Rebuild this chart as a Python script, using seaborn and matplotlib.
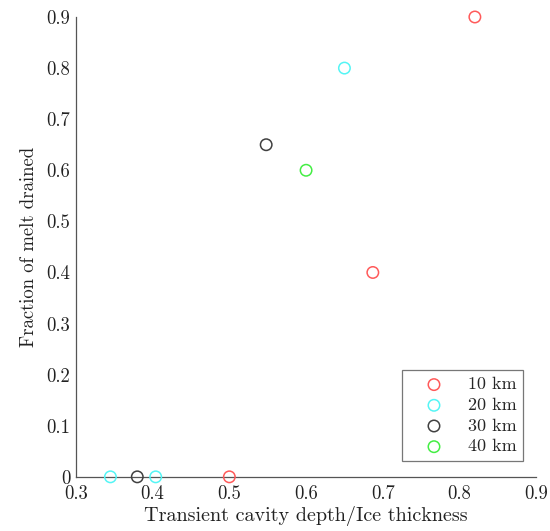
import pandas as pd
import numpy as np
import matplotlib
matplotlib.use("Agg")
import matplotlib.pyplot as plt
import seaborn as sns

# values
groups = ["10 km", "10 km", "10 km", "20 km", "20 km", "20 km", "30 km", "30 km", "40 km"]
depth_ratio = [0.82, 0.687, 0.5, 0.65, 0.345, 0.404, 0.548, 0.38, 0.6]
melt_drained = [0.9, 0.4, 0.0, 0.8, 0.0, 0.0, 0.65, 0.0, 0.6]

labels = ["10 km", "20 km", "30 km", "40 km"]
colors = ["#ff5a5a", "#55f5f5", "#404040", "#44ee44"]

x_ticks = [0.3, 0.4, 0.5, 0.6, 0.7, 0.8, 0.9]
y_ticks = [0, 0.1, 0.2, 0.3, 0.4, 0.5, 0.6, 0.7, 0.8, 0.9]

df = pd.DataFrame({"ratio": depth_ratio, "drained": melt_drained, "run": groups})

sns.set_style("white")
plt.rcParams["font.family"] = ["cmr10", "DejaVu Serif"]
plt.rcParams["mathtext.fontset"] = "cm"
plt.rcParams["axes.formatter.use_mathtext"] = True

fig = plt.figure(figsize=(5.5, 5.31), dpi=100)
ax = fig.add_axes([0.138, 0.102, 0.837, 0.866])

for lab, col in zip(labels, colors):
    sub = df[df["run"] == lab]
    sns.scatterplot(data=sub, x="ratio", y="drained", ax=ax, marker="o",
                    s=68, facecolors="none", edgecolors=col, linewidth=1.1,
                    label=lab, clip_on=False, zorder=3)

ax.set_xlim(0.3, 0.9)
ax.set_ylim(0, 0.9)
ax.set_xticks(x_ticks)
ax.set_yticks(y_ticks)
ax.set_xticklabels([f"{t:g}" for t in x_ticks])
ax.set_yticklabels([f"{t:g}" for t in y_ticks])
ax.tick_params(direction="in", length=4, width=0.8, color="#555555",
               labelsize=13.5, labelcolor="#222222")
ax.tick_params(axis="x", pad=6)
ax.tick_params(axis="y", pad=4)

for side in ["top", "right"]:
    ax.spines[side].set_visible(False)
for side in ["left", "bottom"]:
    ax.spines[side].set_color("#555555")
    ax.spines[side].set_linewidth(0.9)

ax.set_xlabel("Transient cavity depth/Ice thickness", fontsize=14.5,
              color="#222222", labelpad=2)
ax.set_ylabel("Fraction of melt drained", fontsize=13.5, color="#222222",
              labelpad=6)

leg = ax.legend(loc="lower right", bbox_to_anchor=(0.972, 0.035), fontsize=13,
                frameon=True, fancybox=False, edgecolor="#555555",
                handletextpad=0.5, borderpad=0.35, labelspacing=0.28,
                handlelength=2.8, borderaxespad=0)
leg.get_frame().set_linewidth(0.9)

fig.savefig("out.png", dpi=100)
